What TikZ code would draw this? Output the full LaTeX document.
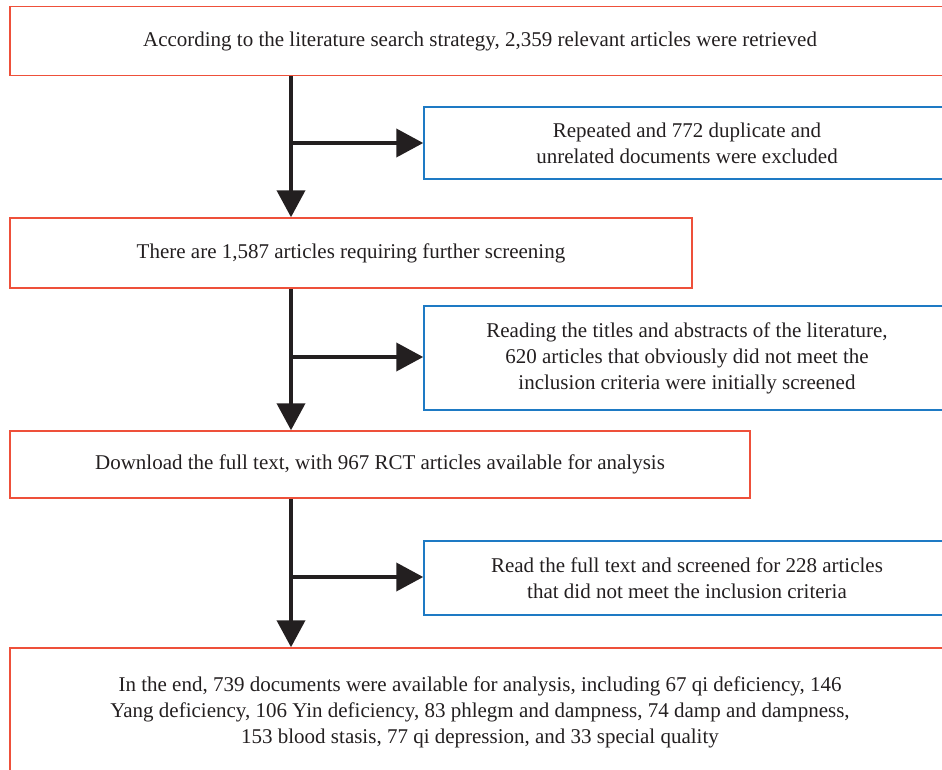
\documentclass[tikz,border=0pt]{standalone}
\usepackage{fontspec}
\setmainfont{Liberation Serif}
\usetikzlibrary{arrows.meta}

\definecolor{boxred}{RGB}{238,80,58}
\definecolor{boxblue}{RGB}{30,122,196}
\definecolor{ink}{RGB}{35,31,32}

\begin{document}
\begin{tikzpicture}[x=1pt,y=1pt,
    stage/.style={draw=boxred, line width=1.5pt, align=center, text=ink, inner sep=0pt,
        font=\fontsize{21}{26}\selectfont},
    drop/.style={stage, draw=boxblue},
    flow/.style={ink, line width=4pt, -{Triangle[length=27pt,width=28pt]}}]
    \useasboundingbox (0,0) rectangle (942,-769);
    \clip (0,0) rectangle (942,-769);
    % main stages
    \node [stage, minimum width=940, minimum height=69] (s1) at (480,-41)
        {According to the literature search strategy, 2,359 relevant articles were retrieved};
    \node [stage, minimum width=682, minimum height=70] (s2) at (351,-253)
        {There are 1,587 articles requiring further screening};
    \node [stage, minimum width=740, minimum height=67] (s3) at (380,-464.5)
        {Download the full text, with 967 RCT articles available for analysis};
    \node [stage, minimum width=940, minimum height=128] (s4) at (480,-712)
        {In the end, 739 documents were available for analysis, including 67 qi deficiency, 146\\
         Yang deficiency, 106 Yin deficiency, 83 phlegm and dampness, 74 damp and dampness,\\
         153 blood stasis, 77 qi depression, and 33 special quality};
    % excluded
    \node [drop, minimum width=526, minimum height=72] (x1) at (687,-143)
        {Repeated and 772 duplicate and\\unrelated documents were excluded};
    \node [drop, minimum width=526, minimum height=104] (x2) at (687,-358)
        {Reading the titles and abstracts of the literature,\\
         620 articles that obviously did not meet the\\
         inclusion criteria were initially screened};
    \node [drop, minimum width=526, minimum height=74] (x3) at (687,-578)
        {Read the full text and screened for 228 articles\\that did not meet the inclusion criteria};
    % connectors
    \coordinate (j1) at (291,-143);
    \coordinate (j2) at (291,-357);
    \coordinate (j3) at (291,-577);
    \draw[flow] (j1 |- s1.south) -- (j1 |- s2.north);
    \draw[flow] (j2 |- s2.south) -- (j2 |- s3.north);
    \draw[flow] (j3 |- s3.south) -- (j3 |- s4.north);
    \draw[flow] (j1) -- (j1 -| x1.west);
    \draw[flow] (j2) -- (j2 -| x2.west);
    \draw[flow] (j3) -- (j3 -| x3.west);
\end{tikzpicture}
\end{document}
